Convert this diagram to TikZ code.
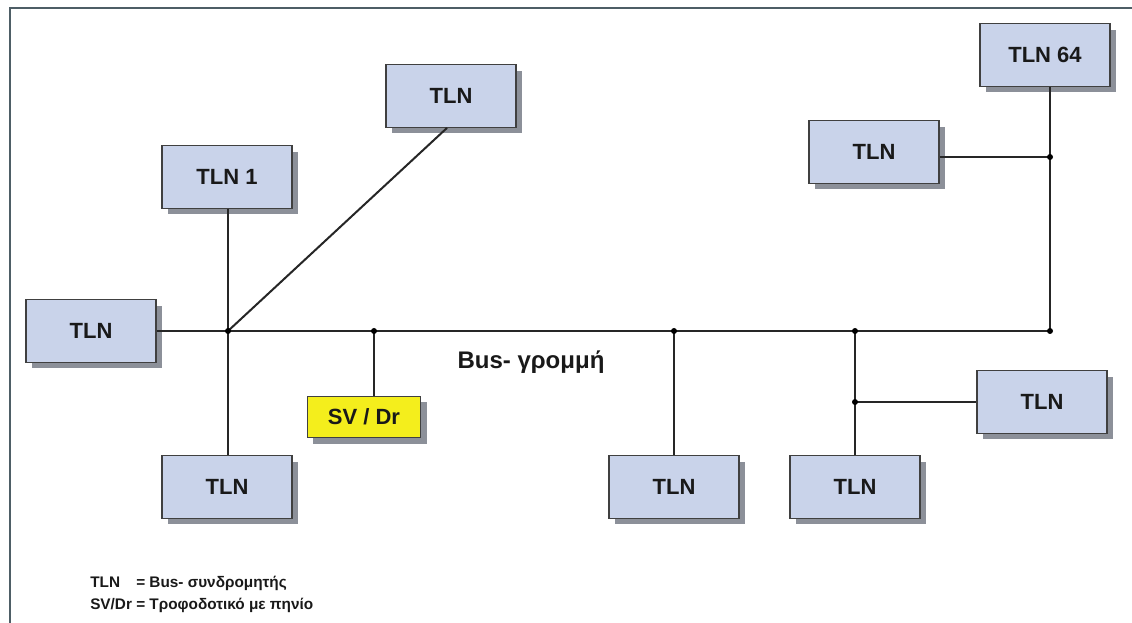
\documentclass[tikz,border=0pt]{standalone}
\usepackage{fontspec}
\setmainfont{Liberation Sans}
\usetikzlibrary{shadows,calc}
\definecolor{boxfill}{HTML}{C9D3EA}
\definecolor{shadowc}{HTML}{8C9099}
\definecolor{framec}{HTML}{4E5E66}
\definecolor{svfill}{HTML}{F4EE1C}
\tikzset{
  tln/.style={draw=black!75, line width=0.9pt, fill=boxfill, minimum width=97.5pt, minimum height=47pt,
    font=\fontsize{16.5}{18}\selectfont\bfseries, text=black!90,
    drop shadow={shadow xshift=4.5pt, shadow yshift=-4.5pt, fill=shadowc, opacity=1}},
  svbox/.style={tln, fill=svfill, minimum width=85pt, minimum height=31pt},
  wire/.style={line width=1.5pt, draw=black!85},
  jdot/.style={circle, fill=black, inner sep=0pt, minimum size=4.5pt},
}
\begin{document}
\begin{tikzpicture}[x=0.75pt,y=-0.75pt]
\useasboundingbox (0,0) rectangle (1132,623);
\fill[white] (0,0) rectangle (1132,623);
\draw[framec, line width=2pt] (1132,8) -- (10,8) -- (10,623);
% nodes
\node[tln] (t2) at (451,96) {TLN};
\node[tln] (t1) at (227,177) {TLN 1};
\node[tln] (tl) at (91,331) {TLN};
\node[tln] (tbl) at (227,487) {TLN};
\node[svbox] (sv) at (364,417) {SV / Dr};
\node[tln] (tbm) at (674,487) {TLN};
\node[tln] (tbr) at (855,487) {TLN};
\node[tln] (tr) at (1042,402) {TLN};
\node[tln] (tur) at (874,152) {TLN};
\node[tln] (t64) at (1045,55) {TLN 64};
% junctions
\coordinate (j1) at (228,331);
\coordinate (j2) at (374,331);
\coordinate (j3) at (674,331);
\coordinate (j4) at (855,331);
\coordinate (j5) at (1050,331);
\coordinate (j6) at (1050,157);
\coordinate (j7) at (855,402);
% wires
\draw[wire] (tl.east) -- (j1) -- (j2) -- (j3) -- (j4) -- (j5) -- (j6) -- (j6 |- t64.south);
\draw[wire] (t1.south -| j1) -- (j1) -- (tbl.north -| j1);
\draw[wire] (j1) -- ($(t2.south)+(-4,0)$);
\draw[wire] (j2) -- (sv.north -| j2);
\draw[wire] (j3) -- (tbm.north);
\draw[wire] (j4) -- (j7) -- (tbr.north -| j4);
\draw[wire] (j7) -- (tr.west);
\draw[wire] (j6 -| tur.east) -- (j6);
\foreach \j in {j1,j2,j3,j4,j5,j6,j7} \node[jdot] at (\j) {};
% labels
\node[font=\fontsize{18}{20}\selectfont\bfseries, text=black!90] (bl) at (531,362) {Bus- γρομμή};
\node[anchor=north west, font=\fontsize{11.5}{17}\selectfont\bfseries, text=black!90, inner sep=0pt] (leg) at (90,571)
  {\begin{tabular}{@{}l@{\ }l@{}}TLN & = Bus- συνδρομητής\\ SV/Dr & = Τροφοδοτικό με πηνίο\end{tabular}};
\end{tikzpicture}
\end{document}
